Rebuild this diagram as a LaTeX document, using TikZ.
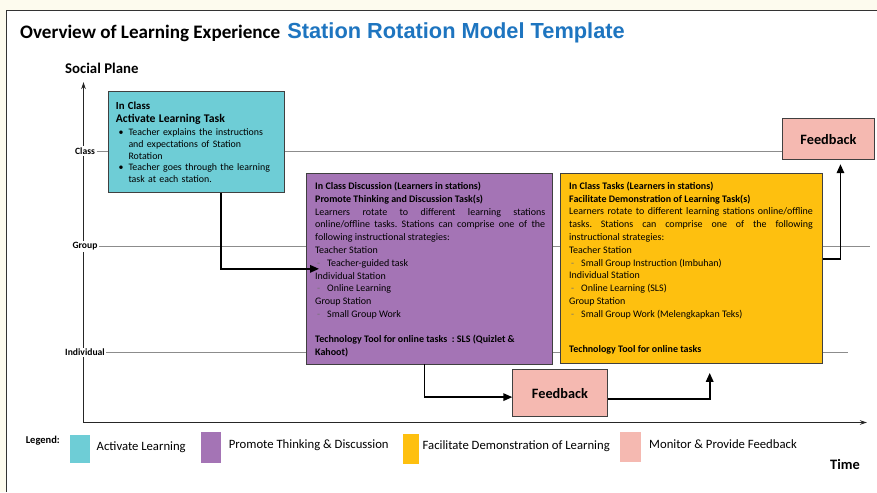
\documentclass[tikz,border=0pt]{standalone}
\usepackage{fontspec}
\setmainfont{Carlito}
\newfontfamily\titlefont{Liberation Sans}
\usetikzlibrary{arrows.meta,positioning}
\definecolor{actcol}{RGB}{110,205,214}
\definecolor{procol}{RGB}{164,116,181}
\definecolor{faccol}{RGB}{254,192,15}
\definecolor{fbcol}{RGB}{245,185,177}
\definecolor{ttlblue}{RGB}{30,117,192}
\definecolor{cream}{RGB}{253,251,238}
\newcommand{\fs}[2]{\fontsize{#1}{#2}\selectfont}
\newcommand{\bul}{\makebox[12.6pt][l]{\hspace{2.6pt}\textbullet}}
\newcommand{\stn}{\makebox[12pt][l]{\hspace{2pt}\textcolor{black!55}{-}}}
\frenchspacing

\begin{document}
\begin{tikzpicture}[x=1pt,y=-1pt,
stationbox/.style={draw=black!75,line width=0.9pt,anchor=north west,inner sep=0pt},
txt/.style={anchor=base west,inner sep=0pt},
plane/.style={fill=white,inner sep=1.5pt,font=\bfseries\fs{9.6}{10}},
guide/.style={draw=black!45,line width=0.8pt},
planeaxis/.style={line width=1.1pt,black!85,-{Stealth[length=7pt,width=4.5pt]}},
conn/.style={line width=1.7pt,-{Triangle[length=9pt,width=7.5pt]}},
legbox/.style={anchor=north west,inner sep=0pt},
legtxt/.style={anchor=west,inner sep=0pt,font=\fs{12.7}{14}}]
\useasboundingbox (0,0) rectangle (877,492);
\fill[cream] (0,0) rectangle (877,492);
\fill[white] (6.7,10.3) rectangle (877,492);
\draw[black!80,line width=1.3pt] (6.7,492) -- (6.7,10.3) -- (877,10.3);

\node[txt,font=\bfseries\fs{19.1}{22}] (ttl) at (20,38.3) {Overview of Learning Experience};
\node[txt,font=\titlefont\bfseries\fs{21.8}{24},text=ttlblue] (ttlb) at ([xshift=6.5pt]ttl.base east) {Station Rotation Model Template};
\node[txt,font=\bfseries\fs{14.8}{16}] (social) at (65,74) {Social Plane};

\coordinate (o) at (83.5,422.5);
\draw[planeaxis] (o) -- (83.5,82);
\draw[planeaxis] (o) -- (867,422.5);
\foreach \lab/\yy/\xe in {Class/151/782,Group/246.5/870,Individual/352.5/848}{
\node[plane] (p\lab) at (85,\yy) {\lab};
\draw[guide] (p\lab.east) -- (\xe,\yy);}

\node[stationbox,fill=actcol,minimum width=176.7pt,minimum height=100.7pt] (act) at (107.5,91) {};
\node[txt,text width=165pt,align=left,font=\fs{9.9}{11.8}] (actt) at (115.7,109.5) {{\bfseries\fs{10.8}{11.8}In Class}\\[1.2pt]{\bfseries\fs{11.7}{11.8}Activate Learning Task}\\[1.2pt]\bul Teacher explains the instructions\\\hspace*{12.6pt}and expectations of Station\\\hspace*{12.6pt}Rotation\\\bul Teacher goes through the learning\\\hspace*{12.6pt}task at each station.};

\node[stationbox,fill=procol,minimum width=246.3pt,minimum height=190.2pt] (pro) at (306,173.3) {};
\node[txt,text width=230pt,align=justify,font=\fs{10}{12.8}] (prot) at (315,189.5) {\textbf{In Class Discussion (Learners in stations)}\\\textbf{Promote Thinking and Discussion Task(s)}\\Learners rotate to different learning stations\linebreak online/offline tasks. Stations can comprise one of the\linebreak following instructional strategies:\\Teacher Station\\\stn Teacher-guided task\\Individual Station\\\stn Online Learning\\Group Station\\\stn Small Group Work\\[12.2pt]\textbf{Technology Tool for online tasks~ : SLS (Quizlet \&}\\\textbf{Kahoot)}};

\node[stationbox,fill=faccol,minimum width=261.7pt,minimum height=190.3pt] (fac) at (560,172.7) {};
\node[txt,text width=243.7pt,align=justify,font=\fs{10}{12.8}] (fact) at (569,189.2) {\textbf{In Class Tasks (Learners in stations)}\\\textbf{Facilitate Demonstration of Learning Task(s)}\\Learners rotate to different learning stations online/offline\linebreak tasks. Stations can comprise one of the following\linebreak instructional strategies:\\Teacher Station\\\stn Small Group Instruction (Imbuhan)\\Individual Station\\\stn Online Learning (SLS)\\Group Station\\\stn Small Group Work (Melengkapkan Teks)\\[22.5pt]\textbf{Technology Tool for online tasks}};

\node[stationbox,fill=fbcol,minimum width=94.4pt,minimum height=46.7pt,font=\bfseries\fs{14.3}{16}] (fbmid) at (512.3,369.3) {Feedback};
\node[stationbox,fill=fbcol,minimum width=92.6pt,minimum height=41pt,font=\bfseries\fs{14.3}{16}] (fbtop) at (781.7,118.3) {Feedback};

\draw[conn,shorten >=-13pt] ([xshift=24.7pt]act.south) |- (pro.west);
\draw[conn] ([xshift=-5.2pt]pro.south) |- ([yshift=-4pt]fbmid.west);
\draw[conn,shorten >=9pt] ([yshift=-5.6pt]fbmid.east) -| ([xshift=18.4pt]fac.south);
\draw[conn,shorten >=4pt] ([yshift=9pt]fac.east) -| ([xshift=12pt]fbtop.south);

\node[font=\bfseries\fs{10.5}{12},inner sep=0pt] (leg) at (42.8,440.5) {Legend:};
\foreach \c/\x/\y/\w/\h/\tx/\ty/\t [count=\i] in {actcol/69.3/434.3/20pt/28pt/96.5/446.7/Activate Learning,procol/201/432/19.8pt/30.7pt/228.7/445.3/Promote Thinking \& Discussion,faccol/403/434/15.5pt/30pt/422.5/446/Facilitate Demonstration of Learning,fbcol/619.7/432/20.7pt/29.7pt/649/444/Monitor \& Provide Feedback}{
\node[legbox,fill=\c,minimum width=\w,minimum height=\h] (lg\i) at (\x,\y) {};
\node[legtxt] (lt\i) at (\tx,\ty) {\t};}
\node[txt,font=\bfseries\fs{14.4}{16}] (time) at (830,469) {Time};
\end{tikzpicture}
\end{document}
